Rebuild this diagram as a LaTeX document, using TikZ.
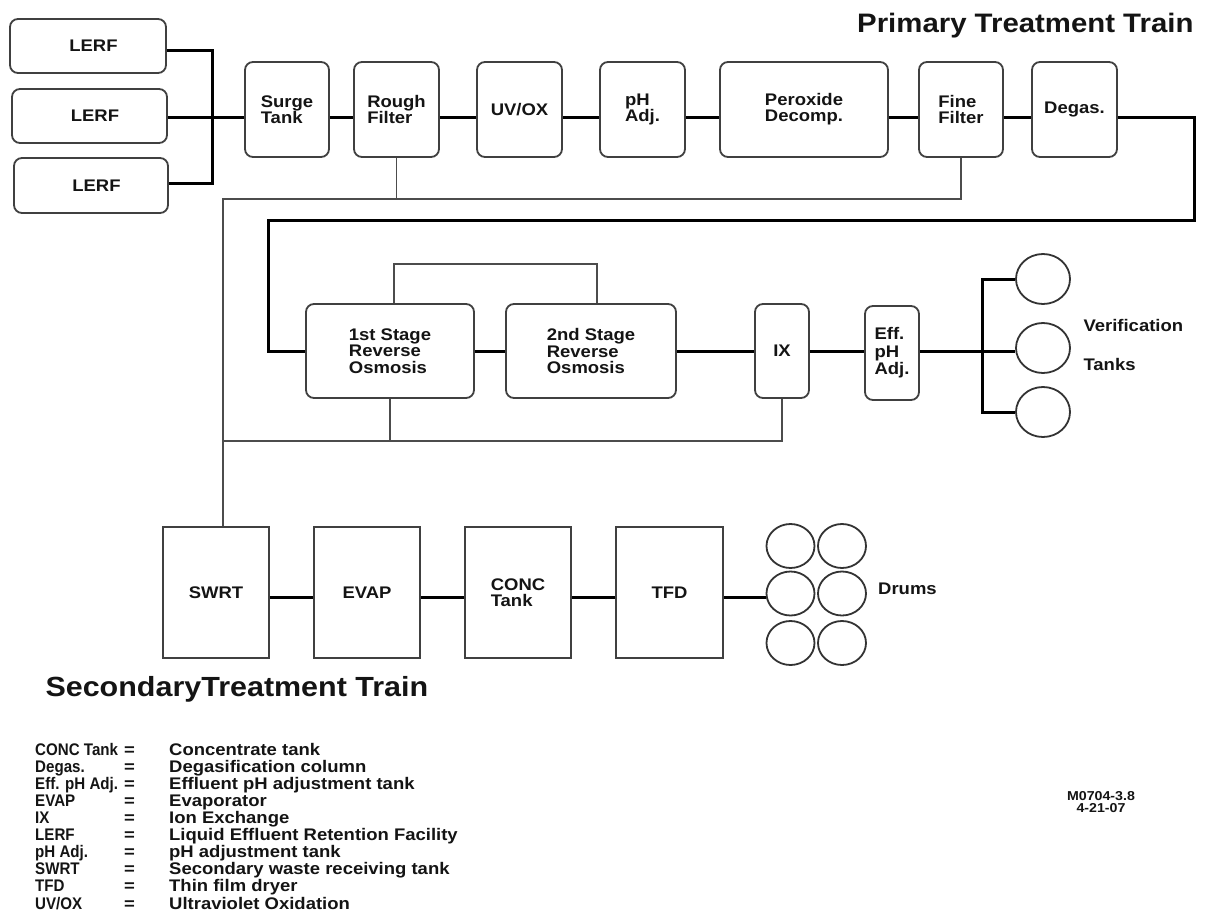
\documentclass[tikz,border=0pt]{standalone}
\usepackage{fontspec}
\setmainfont{Liberation Sans}[FakeStretch=1.1]
\newfontfamily\abbrfont{Liberation Sans}[FakeStretch=0.9]
\usetikzlibrary{shapes.geometric}

\begin{document}
\begin{tikzpicture}[x=1pt,y=-1pt,
  every node/.style={font=\bfseries\fontsize{16.8}{16}\selectfont, text=black!92},
  rbox/.style={draw=black!75, line width=1.8pt, rounded corners=8pt, inner sep=0pt, align=left},
  sbox/.style={draw=black!75, line width=1.8pt, inner sep=0pt, align=left},
  tank/.style={draw=black!80, line width=1.8pt, ellipse, inner sep=0pt},
  flow/.style={line width=3pt, black},
  recycle/.style={line width=1.8pt, black!70},
]
\fill[white] (0,0) rectangle (1216,913);
\useasboundingbox (0,0) rectangle (1216,913);

% ---------- primary treatment train ----------
\node[rbox, minimum width=156pt, minimum height=54pt] (lerf1) at (88,46) {\hspace*{11pt}LERF};
\node[rbox, minimum width=155pt, minimum height=54pt] (lerf2) at (89.5,116) {\hspace*{11pt}LERF};
\node[rbox, minimum width=154pt, minimum height=55pt] (lerf3) at (91,185.5) {\hspace*{11pt}LERF};

\node[rbox, minimum width=84pt, minimum height=95pt] (surge) at (287,109.5) {Surge\\Tank};
\node[rbox, minimum width=85pt, minimum height=95pt] (rough) at (396.5,109.5) {Rough\\Filter};
\node[rbox, minimum width=85pt, minimum height=95pt] (uvox) at (519.5,109.5) {UV/OX};
\node[rbox, minimum width=85pt, minimum height=95pt] (ph) at (642.5,109.5) {pH\\Adj.};
\node[rbox, minimum width=168pt, minimum height=95pt] (perox) at (804,109.5) {Peroxide\\Decomp.};
\node[rbox, minimum width=84pt, minimum height=95pt] (fine) at (961,109.5) {Fine\\Filter};
\node[rbox, minimum width=85pt, minimum height=95pt] (degas) at (1074.5,109.5) {Degas.};

\node[anchor=base east, font=\bfseries\fontsize{26.7}{30}\selectfont] (ptitle) at (1197,32) {Primary Treatment Train};

% ---------- membrane and polishing stages ----------
\node[rbox, minimum width=168pt, minimum height=94pt, font=\bfseries\fontsize{16.8}{16.5}\selectfont] (ro1) at (390,351) {1st Stage\\Reverse\\Osmosis};
\node[rbox, minimum width=170pt, minimum height=94pt, font=\bfseries\fontsize{16.8}{16.5}\selectfont] (ro2) at (591,351) {2nd Stage\\Reverse\\Osmosis};
\node[rbox, minimum width=54pt, minimum height=94pt] (ix) at (782,351) {IX};
\node[rbox, minimum width=54pt, minimum height=94pt, font=\bfseries\fontsize{16.8}{17.5}\selectfont] (eff) at (892,353) {Eff.\\pH\\Adj.};

\node[tank, minimum width=54pt, minimum height=50pt] (t1) at (1043,279) {};
\node[tank, minimum width=54pt, minimum height=50pt] (t2) at (1043,348) {};
\node[tank, minimum width=54pt, minimum height=50pt] (t3) at (1043,412) {};
\node[anchor=west, align=left, font=\bfseries\fontsize{16.8}{39}\selectfont] (vlabel) at (1080,345) {Verification\\Tanks};

% ---------- secondary treatment train ----------
\node[sbox, minimum width=106pt, minimum height=131pt] (swrt) at (216,592.5) {SWRT};
\node[sbox, minimum width=106pt, minimum height=131pt] (evap) at (367,592.5) {EVAP};
\node[sbox, minimum width=106pt, minimum height=131pt] (conc) at (518,592.5) {CONC\\Tank};
\node[sbox, minimum width=107pt, minimum height=131pt] (tfd) at (669.5,592.5) {TFD};

\node[tank, minimum width=48pt, minimum height=44pt] (d11) at (790.5,546) {};
\node[tank, minimum width=48pt, minimum height=44pt] (d12) at (842,546) {};
\node[tank, minimum width=48pt, minimum height=44pt] (d21) at (790.5,593.5) {};
\node[tank, minimum width=48pt, minimum height=44pt] (d22) at (842,593.5) {};
\node[tank, minimum width=48pt, minimum height=44pt] (d31) at (790.5,643) {};
\node[tank, minimum width=48pt, minimum height=44pt] (d32) at (842,643) {};
\node[anchor=west, inner sep=0pt] (drums) at (878,589) {Drums};

\node[anchor=base west, font=\bfseries\fontsize{27.7}{30}\selectfont] (stitle) at (42,696) {SecondaryTreatment Train};

% ---------- main flow ----------
\coordinate (rowA) at (0,117);
\coordinate (b1) at (212,50);
\coordinate (b2) at (212,117);
\coordinate (b3) at (212,183);
\draw[flow] (lerf1.east |- b1) -- (b1) -- (b3) -- (lerf3.east |- b3);
\draw[flow] (lerf2.east |- b2) -- (surge.west |- b2);
\foreach \a/\b in {surge/rough, rough/uvox, uvox/ph, ph/perox, perox/fine, fine/degas}
  \draw[flow] (\a.east |- rowA) -- (\b.west |- rowA);

\coordinate (c1) at (1194,220);
\coordinate (c2) at (268,220);
\draw[flow] (degas.east |- rowA) -| (c1) -- (c2) |- (ro1.west);

\draw[flow] (ro1.east) -- (ro2.west);
\draw[flow] (ro2.east) -- (ix.west);
\draw[flow] (ix.east) -- (eff.west |- ix.east);
\coordinate (vb) at (982,351);
\draw[flow] (eff.east |- vb) -- (vb);
\draw[flow] (t1.west) -| (vb) |- (t3.west);
\draw[flow] (vb) -- (t2.west |- vb);

\coordinate (rowC) at (0,597);
\foreach \a/\b in {swrt/evap, evap/conc, conc/tfd}
  \draw[flow] (\a.east |- rowC) -- (\b.west |- rowC);
\draw[flow] (tfd.east |- rowC) -- (d21.west |- rowC);

% ---------- reject / recycle lines ----------
\coordinate (r1) at (223,199);
\draw[recycle] (fine.south) |- (r1) -- (r1 |- swrt.north);
\draw[recycle] (rough.south) -- (rough.south |- r1);
\coordinate (r2) at (223,441);
\draw[recycle] (ix.south) |- (r2);
\draw[recycle] (ro1.south) -- (ro1.south |- r2);
\coordinate (l1) at (394,264);
\coordinate (l2) at (597,264);
\draw[recycle] (ro1.north -| l1) -- (l1) -- (l2) -- (ro2.north -| l2);

% ---------- key ----------
\node[anchor=base west, inner sep=0pt, font=\bfseries\fontsize{16.8}{16.7}\selectfont] (legend) at (35,755) {%
\begin{tabular}[t]{@{}p{89pt}@{}p{45pt}@{}l@{}}
{\abbrfont CONC Tank} & = & Concentrate tank\\
{\abbrfont Degas.} & = & Degasification column\\
{\abbrfont Eff. pH Adj.} & = & Effluent pH adjustment tank\\
{\abbrfont EVAP} & = & Evaporator\\
{\abbrfont IX} & = & Ion Exchange\\
{\abbrfont LERF} & = & Liquid Effluent Retention Facility\\
{\abbrfont pH Adj.} & = & pH adjustment tank\\
{\abbrfont SWRT} & = & Secondary waste receiving tank\\
{\abbrfont TFD} & = & Thin film dryer\\
{\abbrfont UV/OX} & = & Ultraviolet Oxidation
\end{tabular}};

\node[align=center, font=\bfseries\fontsize{12.9}{12}\selectfont] (mark) at (1101,802) {M0704-3.8\\4-21-07};
\end{tikzpicture}
\end{document}
